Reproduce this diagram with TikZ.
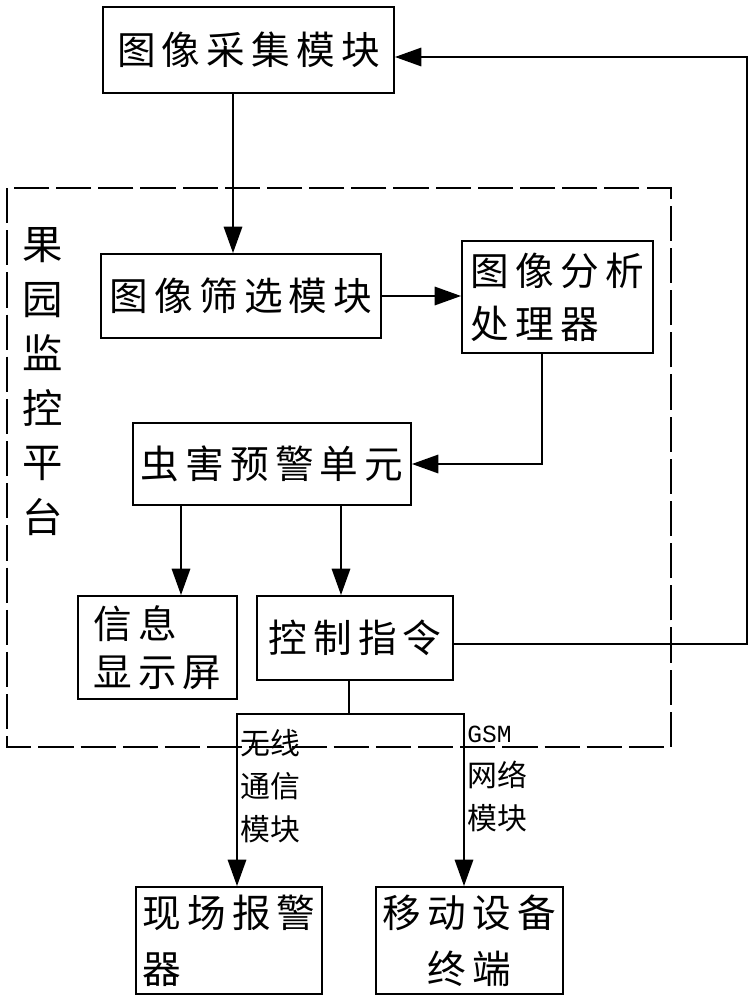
\documentclass[tikz,border=0pt]{standalone}
\usepackage{fontspec}
\setmainfont{Noto Sans CJK SC}
\newfontfamily\blkfont[LetterSpace=16]{Noto Sans CJK SC}
\newfontfamily\gsmfont{Liberation Mono}
\usetikzlibrary{arrows.meta}

\begin{document}
\begin{tikzpicture}[
  blk/.style={draw, line width=1.1pt, inner sep=0pt, align=left,
    font=\blkfont\fontsize{22pt}{29pt}\selectfont},
  arr/.style={line width=1pt, -{Triangle[length=15pt,width=10.5pt]}},
  link/.style={line width=1pt},
  sidetext/.style={inner sep=0pt, anchor=west, align=left,
    font=\fontsize{17pt}{24.5pt}\selectfont}
]
\useasboundingbox (0,0) rectangle (15.04,-20);
% platform frame
\draw[line width=1pt, dash pattern=on 20pt off 4pt] (0.14,-3.76) rectangle (13.42,-14.94);
\node[inner sep=0pt, align=center, font=\fontsize{23pt}{31pt}\selectfont] (platform) at (0.86,-7.63) {果\\园\\监\\控\\平\\台};

% boxes
\node[blk, minimum width=5.82cm, minimum height=1.72cm] (cai) at (4.97,-1.00) {图像采集模块};
\node[blk, minimum width=5.60cm, minimum height=1.68cm] (shai) at (4.82,-5.92) {图像筛选模块};
\node[blk, minimum width=3.82cm, minimum height=2.24cm, font=\blkfont\fontsize{22pt}{30pt}\selectfont] (fenxi) at (11.15,-5.94) {图像分析\\处理器};
\node[blk, minimum width=5.56cm, minimum height=1.64cm] (chong) at (5.44,-9.28) {虫害预警单元};
\node[blk, minimum width=3.18cm, minimum height=2.06cm, font=\blkfont\fontsize{22pt}{27pt}\selectfont] (xinxi) at (3.15,-12.95) {信息\\显示屏};
\node[blk, minimum width=3.92cm, minimum height=1.68cm] (kongzhi) at (7.10,-12.76) {控制指令};
\node[blk, minimum width=3.72cm, minimum height=2.14cm, font=\blkfont\fontsize{22pt}{32pt}\selectfont] (xianchang) at (4.58,-18.81) {现场报警\\器};
\node[blk, minimum width=3.74cm, minimum height=2.14cm, align=center, font=\blkfont\fontsize{22pt}{32pt}\selectfont] (yidong) at (9.39,-18.81) {移动设备\\终端};

% connection points
\coordinate (c0) at ([xshift=-0.31cm]cai.south);
\coordinate (f1) at ([xshift=-0.31cm]fenxi.south);
\coordinate (c2) at ([xshift=-1.82cm]chong.south);
\coordinate (c3) at ([xshift=1.38cm]chong.south);
\coordinate (k1) at ([xshift=-0.12cm]kongzhi.south);
\coordinate (split) at (6.98,-14.28);
\coordinate (x1) at ([xshift=0.16cm]xianchang.north);
\coordinate (y1) at ([xshift=-0.11cm]yidong.north);
\coordinate (fb) at (14.94,-12.88);

% arrows
\draw[arr] (c0) -- (c0 |- shai.north);
\draw[arr] (shai.east) -- (shai.east -| fenxi.west);
\draw[arr] (f1) |- (chong.east);
\draw[arr] (c2) -- (c2 |- xinxi.north);
\draw[arr] (c3) -- (c3 |- kongzhi.north);
\draw[arr] ([yshift=-0.12cm]kongzhi.east) -- (fb) |- ([yshift=-0.14cm]cai.east);
\draw[link] (k1) -- (split);
\draw[arr] (split) -| (x1);
\draw[arr] (split) -| (y1);

% link labels
\node[sidetext] (wuxian) at (4.80,-15.72) {无线\\通信\\模块};
\node[sidetext] (gsm) at (9.34,-15.58) {{\gsmfont\fontsize{14pt}{24.5pt}\selectfont GSM}\\网络\\模块};
\end{tikzpicture}
\end{document}
